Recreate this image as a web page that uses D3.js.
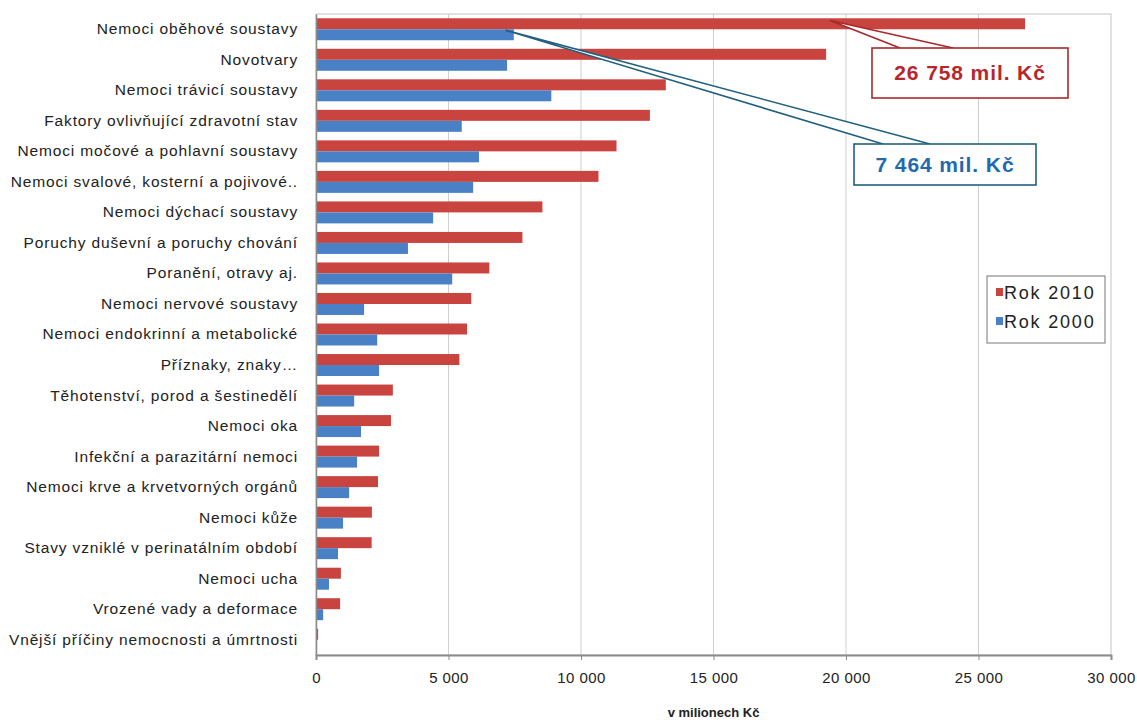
<!DOCTYPE html>
<html>
<head>
<meta charset="utf-8">
<script src="https://cdn.jsdelivr.net/npm/d3@7"></script>
<style>
    body { margin: 0; background: #fff; }
    #chart-area { width: 1137px; height: 722px; }
    text { font-family: "Liberation Sans", Arial, sans-serif; }
</style>
</head>
<body>
<div id="chart-area"></div>
<script>

// categories, top to bottom
const categories = [
    "Nemoci oběhové soustavy",
    "Novotvary",
    "Nemoci trávicí soustavy",
    "Faktory ovlivňující zdravotní stav",
    "Nemoci močové a pohlavní soustavy",
    "Nemoci svalové, kosterní a pojivové..",
    "Nemoci dýchací soustavy",
    "Poruchy duševní a poruchy chování",
    "Poranění, otravy aj.",
    "Nemoci nervové soustavy",
    "Nemoci endokrinní a metabolické",
    "Příznaky, znaky…",
    "Těhotenství, porod a šestinedělí",
    "Nemoci oka",
    "Infekční a parazitární nemoci",
    "Nemoci krve a krvetvorných orgánů",
    "Nemoci kůže",
    "Stavy vzniklé v perinatálním období",
    "Nemoci ucha",
    "Vrozené vady a deformace",
    "Vnější příčiny nemocnosti a úmrtnosti"
];

// v milionech Kč
const values2010 = [26758, 19250, 13200, 12600, 11340, 10660, 8545, 7790, 6540, 5860,
    5700, 5410, 2900, 2830, 2380, 2340, 2110, 2100, 940, 910, 80];
const values2000 = [7464, 7210, 8880, 5500, 6150, 5930, 4420, 3470, 5140, 1815,
    2310, 2380, 1440, 1700, 1550, 1250, 1020, 830, 490, 270, 40];

const seriesNames = ["Rok 2010", "Rok 2000"];
const xTicks = [0, 5000, 10000, 15000, 20000, 25000, 30000];
const xMax = 30000;
const axisTitle = "v milionech Kč";

// callouts: which series / category they point to
const callouts = [
    { series: 0, index: 0, text: "26 758 mil. Kč" },
    { series: 1, index: 0, text: "7 464 mil. Kč" }
];

const colors = ["#c9433f", "#4a80c6"];
const calloutText = ["#b8262b", "#1f6aae"];
const calloutStroke = ["#a8282c", "#21607f"];

const fmt = v => d3.format(",")(v).replace(/,/g, " ");

class BarVis {

    constructor(parentElement) {
        this.parentElement = parentElement;
        this.data = categories.map((c, i) => ({ category: c, values: [values2010[i], values2000[i]] }));
        this.initVis();
    }

    initVis() {
        let vis = this;

        vis.margin = { top: 14, right: 26, bottom: 67, left: 316 };
        vis.width = 1137 - vis.margin.left - vis.margin.right;
        vis.height = 722 - vis.margin.top - vis.margin.bottom;

        vis.svg = d3.select("#" + vis.parentElement).append("svg")
            .attr("width", 1137)
            .attr("height", 722)
            .append("g")
            .attr("transform", `translate(${vis.margin.left},${vis.margin.top})`);

        vis.x = d3.scaleLinear().domain([0, xMax]).range([0, vis.width]);
        vis.y = d3.scaleBand().domain(categories).range([0, vis.height])
            .paddingInner(0.28).paddingOuter(0.14);
        vis.ySub = d3.scaleBand().domain([0, 1]).range([0, vis.y.bandwidth()]);

        vis.updateVis();
    }

    updateVis() {
        let vis = this;

        // plot area frame
        vis.svg.append("rect")
            .attr("width", vis.width)
            .attr("height", vis.height)
            .attr("fill", "none")
            .attr("stroke", "#c4c4c4")
            .attr("stroke-width", 1);

        // gridlines
        vis.svg.selectAll(".grid")
            .data(xTicks.slice(1, -1))
            .enter().append("line")
            .attr("class", "grid")
            .attr("x1", d => vis.x(d)).attr("x2", d => vis.x(d))
            .attr("y1", 0).attr("y2", vis.height)
            .attr("stroke", "#cfcfcf");

        // bars
        let groups = vis.svg.selectAll(".cat")
            .data(vis.data)
            .enter().append("g")
            .attr("class", "cat")
            .attr("transform", d => `translate(0,${vis.y(d.category)})`);

        groups.selectAll("rect")
            .data(d => d.values.map((v, s) => ({ v, s })))
            .enter().append("rect")
            .attr("x", 0)
            .attr("y", d => vis.ySub(d.s))
            .attr("width", d => vis.x(d.v))
            .attr("height", vis.ySub.bandwidth())
            .attr("fill", d => colors[d.s]);

        // x axis
        let xAxis = d3.axisBottom(vis.x)
            .tickValues(xTicks)
            .tickSize(5)
            .tickPadding(12)
            .tickFormat(fmt);

        let xg = vis.svg.append("g")
            .attr("transform", `translate(0,${vis.height})`)
            .call(xAxis);
        xg.select(".domain").attr("stroke", "#8a8a8a").attr("stroke-width", 2);
        xg.selectAll(".tick line").attr("stroke", "#8a8a8a");
        xg.selectAll("text")
            .attr("fill", "#222")
            .style("font-size", "15px")
            .style("letter-spacing", "0.4px");

        // y axis
        let yAxis = d3.axisLeft(vis.y).tickSize(0).tickPadding(18);
        let yg = vis.svg.append("g").call(yAxis);
        yg.select(".domain").attr("stroke", "#8a8a8a").attr("stroke-width", 1.5);
        yg.selectAll("text")
            .attr("fill", "#222")
            .style("font-size", "15.5px")
            .style("letter-spacing", "0.85px");

        // axis title
        vis.svg.append("text")
            .attr("x", vis.width / 2)
            .attr("y", vis.height + 62)
            .attr("text-anchor", "middle")
            .attr("fill", "#222")
            .style("font-size", "13px")
            .style("font-weight", "bold")
            .text(axisTitle);

        // legend
        let legend = vis.svg.append("g")
            .attr("transform", `translate(${vis.width - 124},${262})`);
        legend.append("rect")
            .attr("width", 118).attr("height", 67)
            .attr("fill", "#fff").attr("stroke", "#777");
        seriesNames.forEach((name, i) => {
            legend.append("rect")
                .attr("x", 9).attr("y", 12 + i * 29)
                .attr("width", 7).attr("height", 8)
                .attr("fill", colors[i]);
            legend.append("text")
                .attr("x", 17).attr("y", 23 + i * 29)
                .attr("fill", "#222")
                .style("font-size", "18px")
                .style("letter-spacing", "1.8px")
                .text(name);
        });

        vis.drawCallouts();
    }

    drawCallouts() {
        let vis = this;
        // box geometry in plot coords
        const boxes = [
            { x: 556, y: 34, w: 196, h: 50, a1: 584, a2: 637 },
            { x: 538, y: 130, w: 182, h: 41, a1: 567, a2: 614 }
        ];

        callouts.forEach((c, k) => {
            let d = vis.data[c.index];
            let b = boxes[k];
            let tipX = c.series === 0 ? vis.x(d.values[0]) - 195 : vis.x(d.values[1]) - 8;
            let tipY = vis.y(d.category) + vis.ySub(c.series) + vis.ySub.bandwidth() * (c.series === 0 ? 0.2 : 0.1);

            vis.svg.append("path")
                .attr("d", `M${b.a1},${b.y} L${tipX},${tipY} L${b.a2},${b.y}`)
                .attr("fill", "#fff")
                .attr("stroke", calloutStroke[k])
                .attr("stroke-width", 1.6);

            vis.svg.append("rect")
                .attr("x", b.x).attr("y", b.y)
                .attr("width", b.w).attr("height", b.h)
                .attr("fill", "#fff")
                .attr("stroke", calloutStroke[k])
                .attr("stroke-width", 1.6);

            vis.svg.append("text")
                .attr("x", b.x + b.w / 2)
                .attr("y", b.y + b.h / 2 + 7)
                .attr("text-anchor", "middle")
                .attr("fill", calloutText[k])
                .style("font-size", "21px")
                .style("font-weight", "bold")
                .style("letter-spacing", "0.9px")
                .text(c.text);
        });
    }
}

new BarVis("chart-area");

</script>
</body>
</html>
